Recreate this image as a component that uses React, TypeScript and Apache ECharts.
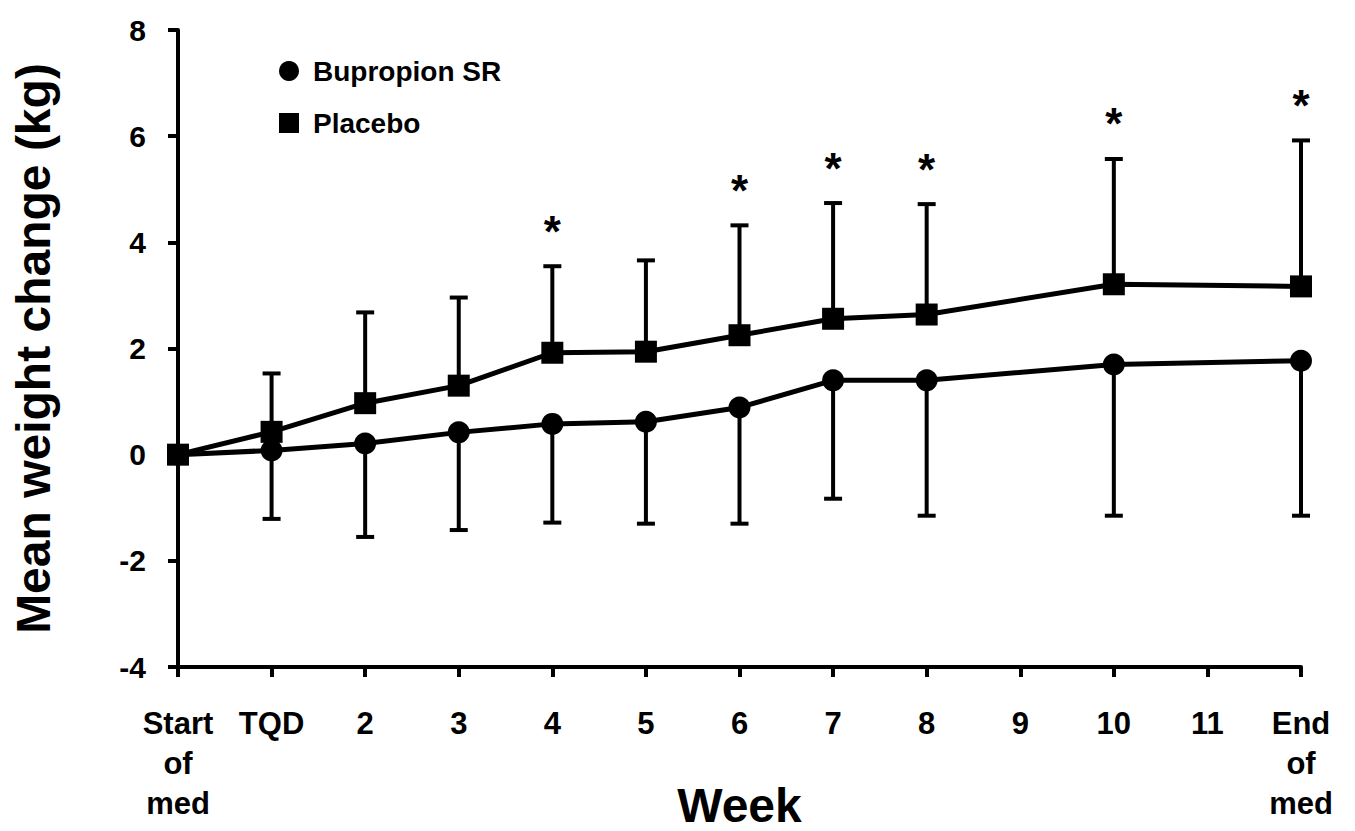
import React, { useEffect, useRef } from "react";
import * as echarts from "echarts";

const categories = ["Start\nof\nmed", "TQD", "2", "3", "4", "5", "6", "7", "8", "9", "10", "11", "End\nof\nmed"];
const placeboMean = [0, 0.43, 0.97, 1.3, 1.92, 1.94, 2.25, 2.56, 2.64, null, 3.21, null, 3.17];
const placeboUpper = [null, 1.53, 2.68, 2.96, 3.55, 3.66, 4.32, 4.74, 4.72, null, 5.57, null, 5.92];
const bupropionMean = [0, 0.08, 0.21, 0.42, 0.58, 0.62, 0.89, 1.4, 1.4, null, 1.7, null, 1.77];
const bupropionLower = [null, -1.21, -1.55, -1.42, -1.28, -1.3, -1.3, -0.83, -1.15, null, -1.15, null, -1.15];
const significant = [0, 0, 0, 0, 1, 0, 1, 1, 1, 0, 1, 0, 1];
const yTicks = { min: -4, max: 8, interval: 2 };

const FONT = "'Liberation Sans', Arial, sans-serif";

function errorData(means: (number | null)[], bounds: (number | null)[]) {
  const out: any[] = [];
  means.forEach((m, i) => {
    const b = bounds[i];
    if (m != null && b != null) out.push([i, m, b, significant[i]]);
  });
  return out;
}

function makeRenderItem(withStar: boolean) {
  return (params: any, api: any) => {
    const i = api.value(0);
    const p0 = api.coord([i, api.value(1)]);
    const p1 = api.coord([i, api.value(2)]);
    const cap = 9;
    const children: any[] = [
      { type: "line", shape: { x1: p0[0], y1: p0[1], x2: p1[0], y2: p1[1] }, style: { stroke: "#000", lineWidth: 4 } },
      { type: "line", shape: { x1: p1[0] - cap, y1: p1[1], x2: p1[0] + cap, y2: p1[1] }, style: { stroke: "#000", lineWidth: 4 } },
    ];
    if (withStar && api.value(3) === 1) {
      children.push({
        type: "text",
        style: {
          text: "*",
          x: p1[0],
          y: p1[1] - 35,
          align: "center",
          verticalAlign: "middle",
          fontSize: 44,
          fontWeight: "bold",
          fontFamily: FONT,
          fill: "#000",
        },
      });
    }
    return { type: "group", children };
  };
}

export default function App() {
  const ref = useRef<HTMLDivElement>(null);
  useEffect(() => {
    if (!ref.current) return;
    const chart = echarts.init(ref.current, null, { renderer: "svg" });
    chart.setOption({
      animation: false,
      backgroundColor: "#fff",
      grid: { left: 178, right: 54, top: 30, bottom: 164, containLabel: false, outerBoundsMode: "none" },
      legend: {
        orient: "vertical",
        left: 279,
        top: 57,
        padding: 0,
        itemWidth: 20,
        itemHeight: 20,
        itemGap: 24,
        data: [
          { name: "Bupropion SR", icon: "circle" },
          { name: "Placebo", icon: "rect" },
        ],
        textStyle: { fontSize: 28, fontWeight: "bold", fontFamily: FONT, color: "#000", padding: [0, 0, 0, 9] },
      },
      xAxis: {
        type: "category",
        data: categories,
        boundaryGap: false,
        name: "Week",
        nameLocation: "middle",
        nameGap: 116,
        nameMoveOverlap: false,
        nameTextStyle: { fontSize: 48, lineHeight: 44, fontWeight: "bold", fontFamily: FONT, color: "#000" },
        axisLine: { onZero: false, lineStyle: { color: "#000", width: 4 } },
        axisTick: { length: 10, lineStyle: { color: "#000", width: 4 }, alignWithLabel: true },
        axisLabel: {
          interval: 0,
          fontSize: 31,
          fontWeight: "bold",
          fontFamily: FONT,
          color: "#000",
          lineHeight: 40,
          margin: 36,
        },
        splitLine: { show: false },
      },
      yAxis: {
        type: "value",
        min: yTicks.min,
        max: yTicks.max,
        interval: yTicks.interval,
        name: "Mean weight change (kg)",
        nameLocation: "middle",
        nameGap: 121,
        nameMoveOverlap: false,
        nameTextStyle: { fontSize: 48, fontWeight: "bold", fontFamily: FONT, color: "#000" },
        axisLine: { show: true, lineStyle: { color: "#000", width: 4 } },
        axisTick: { show: true, length: 10, lineStyle: { color: "#000", width: 4 } },
        axisLabel: { fontSize: 30, fontWeight: "bold", fontFamily: FONT, color: "#000", margin: 32 },
        splitLine: { show: false },
      },
      series: [
        {
          type: "custom",
          name: "Bupropion SR error",
          data: errorData(bupropionMean, bupropionLower),
          renderItem: makeRenderItem(false),
          z: 1,
          silent: true,
        },
        {
          type: "custom",
          name: "Placebo error",
          data: errorData(placeboMean, placeboUpper),
          renderItem: makeRenderItem(true),
          z: 1,
          silent: true,
        },
        {
          type: "line",
          name: "Bupropion SR",
          data: bupropionMean,
          connectNulls: true,
          symbol: "circle",
          symbolSize: 22,
          itemStyle: { color: "#000" },
          lineStyle: { color: "#000", width: 5 },
          z: 3,
        },
        {
          type: "line",
          name: "Placebo",
          data: placeboMean,
          connectNulls: true,
          symbol: "rect",
          symbolSize: 22,
          itemStyle: { color: "#000" },
          lineStyle: { color: "#000", width: 5 },
          z: 4,
        },
      ],
    });
    return () => chart.dispose();
  }, []);
  return <div ref={ref} style={{ width: 1355, height: 831, margin: -8 }} />;
}
